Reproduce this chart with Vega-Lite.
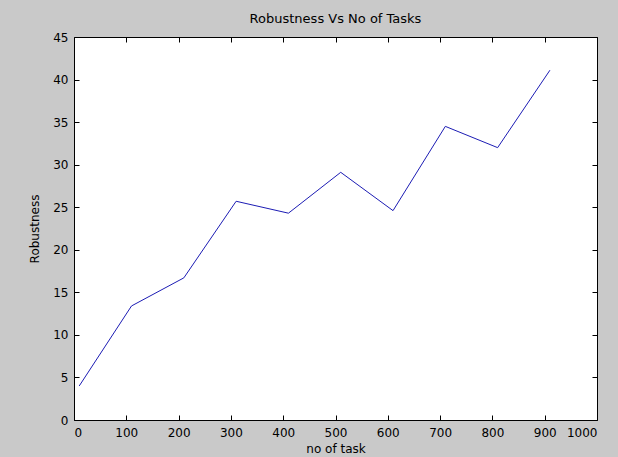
{
  "$schema": "https://vega.github.io/schema/vega-lite/v6.json",
  "autosize": {"type": "none"},
  "width": 523,
  "height": 383,
  "padding": {"left": 74, "top": 37, "right": 21, "bottom": 37},
  "background": "#c9c9c9",
  "title": {
    "text": "Robustness Vs No of Tasks",
    "font": "DejaVu Sans",
    "fontSize": 13,
    "fontWeight": "normal",
    "color": "#000000",
    "offset": 5,
    "anchor": "middle"
  },
  "config": {
    "view": {"fill": "#ffffff", "stroke": null},
    "axis": {
      "domainColor": "#000000",
      "domainWidth": 1,
      "tickColor": "#000000",
      "tickSize": -5,
      "grid": false,
      "labelFont": "DejaVu Sans",
      "labelFontSize": 12,
      "labelColor": "#000000",
      "titleFont": "DejaVu Sans",
      "titleFontSize": 12,
      "titleFontWeight": "normal",
      "titleColor": "#000000"
    }
  },
  "data": {
    "values": [
      {"tasks": 10, "robustness": 4.0},
      {"tasks": 110, "robustness": 13.4},
      {"tasks": 210, "robustness": 16.7},
      {"tasks": 310, "robustness": 25.7},
      {"tasks": 410, "robustness": 24.3},
      {"tasks": 510, "robustness": 29.1},
      {"tasks": 610, "robustness": 24.6},
      {"tasks": 710, "robustness": 34.5},
      {"tasks": 810, "robustness": 32.0},
      {"tasks": 910, "robustness": 41.1}
    ]
  },
  "layer": [
    {
      "mark": {"type": "line", "color": "#1c1cb4", "strokeWidth": 1},
      "encoding": {
        "x": {
          "field": "tasks",
          "type": "quantitative",
          "scale": {"domain": [0, 1000], "nice": false},
          "axis": {"title": "no of task", "format": "d", "values": [0,100,200,300,400,500,600,700,800,900,1000], "labelPadding": 12, "titlePadding": 5}
        },
        "y": {
          "field": "robustness",
          "type": "quantitative",
          "scale": {"domain": [0, 45], "nice": false},
          "axis": {"title": "Robustness", "format": "d", "values": [0,5,10,15,20,25,30,35,40,45], "labelPadding": 11, "titlePadding": 11}
        }
      }
    },
    {
      "mark": {"type": "line", "opacity": 0},
      "encoding": {
        "x": {
          "field": "tasks",
          "type": "quantitative",
          "scale": {"domain": [0, 1000], "nice": false},
          "axis": {"orient": "top", "title": null, "labels": false, "values": [0,100,200,300,400,500,600,700,800,900,1000]}
        },
        "y": {
          "field": "robustness",
          "type": "quantitative",
          "scale": {"domain": [0, 45], "nice": false},
          "axis": {"orient": "right", "title": null, "labels": false, "values": [0,5,10,15,20,25,30,35,40,45]}
        }
      }
    }
  ],
  "resolve": {"axis": {"x": "independent", "y": "independent"}}
}
